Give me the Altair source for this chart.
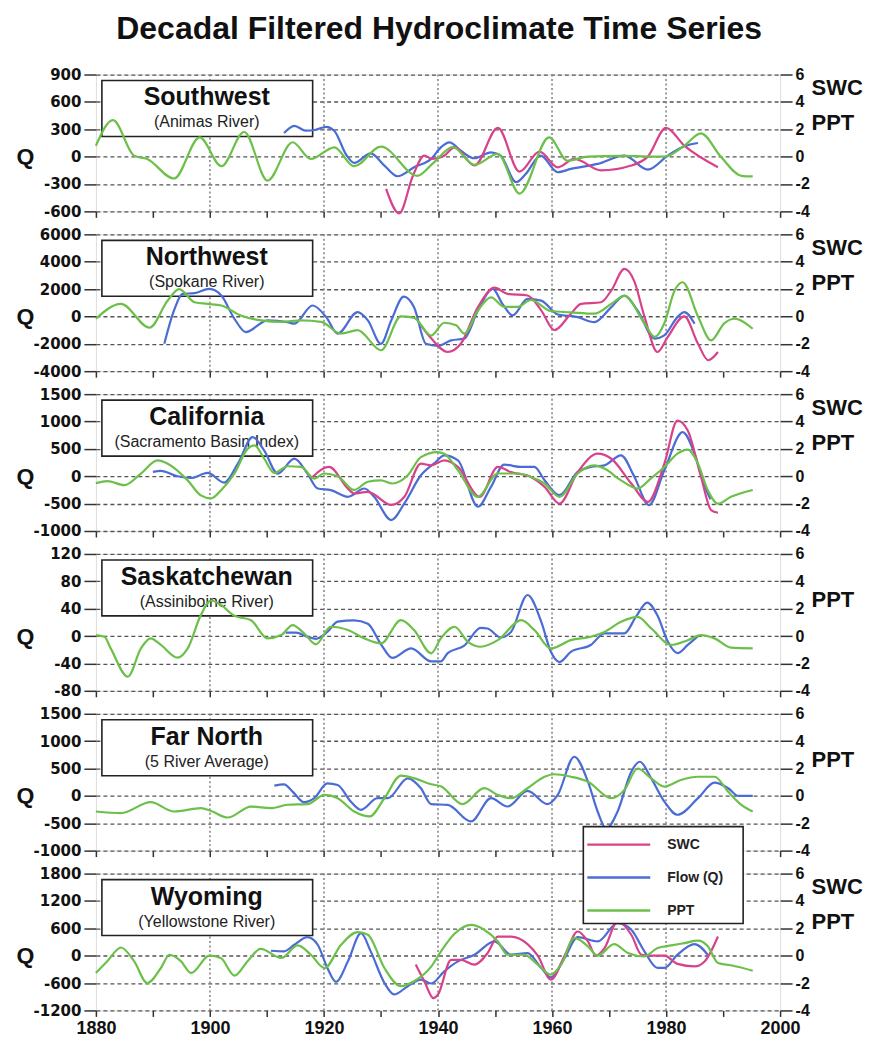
import altair as alt
import pandas as pd

# ---------------- data ----------------
YEAR_TICKS = list(range(1880, 2001, 10))
GRID_YEARS = [1900, 1920, 1940, 1960, 1980]
SERIES_NAMES = ["SWC", "Flow (Q)", "PPT"]
SERIES_COLORS = ["#d8428a", "#4a6cd4", "#6cc04a"]
INDEX_TICKS = [-4, -2, 0, 2, 4, 6]

# Southwest (Animas River)
SW_Q_TICKS = [-600, -300, 0, 300, 600, 900]
SW_PPT_YEARS = [1880, 1883, 1886.7, 1889, 1893.7, 1898.2, 1902, 1906, 1910.1, 1914.5, 1917.7, 1921.8, 1925.3, 1930, 1936.4, 1939.2, 1942.6, 1946.4, 1950.5, 1954.3, 1959.5, 1962.7, 1966.3, 1972, 1979.7, 1983.2, 1986.1, 1989.6, 1993.2, 1995.2]
SW_PPT = [0.8, 2.67, 0.07, -0.17, -1.6, 1.4, -0.7, 1.8, -1.75, 1.05, -0.17, 0.68, -0.7, 0.73, -1.4, -0.45, 0.7, -0.6, 0.2, -2.7, 1.4, -0.3, 0.0, 0.05, 0.0, 0.8, 1.7, 0.0, -1.4, -1.45]
SW_Q_YEARS = [1913, 1914.8, 1916.8, 1918.6, 1920.4, 1921.8, 1924, 1925.3, 1928.2, 1930.6, 1932.9, 1935.8, 1938.8, 1940.5, 1942, 1944, 1946.4, 1949.3, 1951, 1953.7, 1955.4, 1958, 1961, 1963.3, 1968, 1972.7, 1976.8, 1980.3, 1983.2, 1985.6]
SW_Q = [258, 338, 284, 295, 327, 284, 11, -69, 36, -98, -215, -116, -25, 102, 156, 65, -18, 47, 10, -280, -189, 11, -171, -135, -80, 11, -142, 11, 113, 149]
SW_SWC_YEARS = [1930.9, 1933.2, 1935.6, 1937.6, 1939, 1941.1, 1942.9, 1946.4, 1950.5, 1954.3, 1957.8, 1961, 1963.9, 1968.6, 1973.9, 1976.8, 1980, 1983.2, 1989.1]
SW_SWC = [-2.35, -4.15, -1.4, 0.07, -0.17, 0.07, 0.68, -0.65, 2.1, -1.1, 0.36, -0.78, -0.17, -1.0, -0.65, 0.0, 2.1, 0.8, -0.78]

# Northwest (Spokane River)
NW_Q_TICKS = [-4000, -2000, 0, 2000, 4000, 6000]
NW_PPT_YEARS = [1880, 1884.4, 1889.4, 1892.6, 1894.6, 1897.3, 1899.6, 1902, 1905.4, 1909, 1912.5, 1916, 1919.5, 1923, 1925.9, 1930, 1933.5, 1935.8, 1938.8, 1941.1, 1943.2, 1944.6, 1947, 1949.3, 1951.6, 1954, 1956.3, 1959.8, 1963.3, 1967.4, 1970.4, 1972.7, 1976.2, 1978, 1979.7, 1981.5, 1982.9, 1985.6, 1987.9, 1990.2, 1992, 1995.2]
NW_PPT = [-0.17, 0.92, -0.82, 1.16, 2.0, 1.04, 0.92, 0.8, 0.07, -0.29, -0.4, -0.29, -0.4, -1.26, -1.0, -2.47, 0.0, -0.1, -1.4, -0.46, -0.65, -1.26, 0.44, 1.4, 0.7, 0.7, 1.2, 0.4, 0.3, 0.2, 0.92, 1.5, -0.5, -1.5, -0.5, 1.9, 2.5, 0.0, -1.75, -0.5, -0.17, -0.9]
NW_Q_YEARS = [1892, 1893.7, 1895.2, 1897.3, 1899.9, 1902, 1904.3, 1906.3, 1910.1, 1913.6, 1914.8, 1918, 1920.4, 1922.4, 1925.9, 1927.7, 1930, 1931.8, 1934, 1935.8, 1937.9, 1940, 1942.3, 1944.6, 1947, 1949.6, 1951.3, 1953.1, 1955.7, 1958.1, 1961, 1964.5, 1967.4, 1970.4, 1972.7, 1975, 1978, 1979.7, 1982, 1983.2, 1985]
NW_Q = [-2000, 436, 1650, 1700, 2012, 1527, -170, -1140, -290, -412, -530, 800, -48, -1260, 315, -290, -2000, -290, 1450, 680, -2000, -2150, -1750, -1620, 436, 2012, 920, 73, 1285, 1160, 145, -48, -412, 680, 1527, 436, -1620, -1380, -48, 315, -530]
NW_SWC_YEARS = [1937, 1938.8, 1941.7, 1944, 1947, 1949.9, 1952.2, 1955.7, 1958.1, 1960.4, 1963.3, 1965.1, 1968.6, 1970.4, 1972.7, 1974.4, 1976.2, 1978.5, 1980.3, 1983.2, 1985.6, 1987.4, 1989.1]
NW_SWC = [-0.65, -1.6, -2.6, -2.0, 0.68, 2.1, 1.65, 1.53, 0.44, -1.0, 0.2, 0.92, 1.04, 1.9, 3.47, 2.6, 0.0, -2.6, -1.5, 0.0, -2.0, -3.2, -2.6]

# California (Sacramento Basin Index)
CA_Q_TICKS = [-1000, -500, 0, 500, 1000, 1500]
CA_PPT_YEARS = [1880, 1882, 1885, 1887.9, 1890.8, 1892.6, 1896.1, 1898.4, 1900.2, 1902, 1904.3, 1906.6, 1907.8, 1909.5, 1911.3, 1913.6, 1916, 1918.3, 1920, 1922.4, 1925.3, 1927.7, 1930, 1932, 1934.7, 1937, 1939.9, 1941.1, 1943.5, 1947, 1950.5, 1954, 1956.3, 1958.7, 1961.3, 1964.5, 1967.4, 1969.2, 1972.1, 1975, 1977.3, 1979.7, 1982, 1983.8, 1985.6, 1987.3, 1989.1, 1991.4, 1995.2]
CA_PPT = [-0.5, -0.35, -0.65, 0.2, 1.16, 0.92, -0.3, -1.4, -1.62, -1.0, 0.2, 2.0, 2.25, 1.3, 0.24, 0.73, 0.68, -0.17, 0.2, 0.0, -1.0, -0.4, -0.3, -0.53, 0.07, 1.4, 1.77, 1.65, 0.44, -1.5, 0.2, 0.2, -0.05, -0.53, -1.5, 0.2, 0.8, 0.56, -0.3, -0.9, -0.17, 0.68, 1.65, 1.94, 0.92, -1.0, -2.0, -1.5, -1.0]
CA_Q_YEARS = [1890, 1891.4, 1894.3, 1896.7, 1899.6, 1902.5, 1904.9, 1907.5, 1909.5, 1911.9, 1914.8, 1917.1, 1918.9, 1921.2, 1924.2, 1927.1, 1928.8, 1931.8, 1934.1, 1937, 1939.5, 1941.1, 1943.5, 1947, 1949.3, 1951.6, 1954.6, 1956.9, 1958.7, 1961.3, 1964.5, 1966.8, 1969.2, 1972.1, 1974.4, 1977, 1979.7, 1982.9, 1985, 1986.8, 1987.8]
CA_Q = [79, 97, 0, -30, 60, -115, 230, 715, 473, 48, 321, 48, -224, -254, -375, -224, -375, -800, -497, 18, 250, 382, 290, -557, -194, 212, 170, 170, -73, -345, 79, 170, 200, 382, 0, -527, 109, 806, 412, -194, -420]
CA_SWC_YEARS = [1917.7, 1920.9, 1924.2, 1925.3, 1927.7, 1931.8, 1934.1, 1937, 1938.8, 1941.1, 1943.5, 1947.3, 1950.5, 1952.8, 1956.3, 1958.7, 1961.3, 1964.5, 1968, 1970.4, 1973.9, 1976.8, 1979.7, 1982, 1983.8, 1986.1, 1987.9, 1989.1]
CA_SWC = [-0.17, 0.68, -0.9, -1.26, -1.14, -2.1, -1.5, 0.92, 0.8, 1.16, 0.68, -1.5, 0.68, 0.3, -0.05, -0.78, -2.0, 0.3, 1.65, 1.28, -0.53, -1.87, 0.92, 4.07, 3.35, 0.0, -2.47, -2.67]

# Saskatchewan (Assiniboine River)
SK_Q_TICKS = [-80, -40, 0, 40, 80, 120]
SK_PPT_YEARS = [1880, 1881.5, 1882.6, 1885.6, 1887.9, 1889.6, 1891.4, 1894.3, 1896.1, 1898.4, 1900.2, 1902, 1904.3, 1907.2, 1910.1, 1912.5, 1914.5, 1916.5, 1918.6, 1921.2, 1924.2, 1927.1, 1930, 1933.5, 1935.8, 1938.8, 1940.5, 1942.9, 1945.2, 1947.5, 1950.5, 1954.6, 1956.9, 1959.8, 1963.3, 1966.8, 1969.2, 1972.1, 1975, 1977.4, 1980.9, 1983.8, 1986.1, 1988.5, 1991.4, 1995.2]
SK_PPT = [0.07, -0.05, -0.9, -2.96, -0.9, -0.17, -0.65, -1.58, -0.9, 1.53, 2.6, 2.25, 1.48, 1.16, -0.17, 0.07, 0.8, 0.2, -0.6, 0.68, 0.44, -0.17, -0.53, 1.16, 0.44, -1.26, -0.17, 0.68, -0.4, -0.78, -0.3, 1.16, 0.44, -0.9, -0.3, -0.05, 0.3, 1.04, 1.4, 0.56, -0.65, -0.3, 0.07, -0.17, -0.85, -0.9]
SK_Q_YEARS = [1913.3, 1915.1, 1917.1, 1918.6, 1920.6, 1922.4, 1925.3, 1927.7, 1930, 1932, 1935.3, 1938.8, 1940.5, 1941.7, 1944.6, 1947.5, 1948.7, 1951, 1952.8, 1955.7, 1958.1, 1959.8, 1961.3, 1963.3, 1966.8, 1969.2, 1972.7, 1974.7, 1976.7, 1978.5, 1980.3, 1982, 1983.8, 1985.6]
SK_Q = [5, 5, -1, -4, 6, 21, 23, 18, -12, -32, -18, -37, -37, -25, -14, 12, 11, -2, 6, 60, 21, -23, -38, -23, -13, 4, 4, 28, 49, 30, -8, -25, -13, 0]

# Far North (5 River Average)
FN_Q_TICKS = [-1000, -500, 0, 500, 1000, 1500]
FN_PPT_YEARS = [1880, 1884.4, 1889.6, 1893.7, 1898.4, 1900.2, 1903.1, 1907.2, 1910.7, 1913.6, 1917.1, 1920.1, 1922.4, 1925.3, 1928, 1930.6, 1933.5, 1935.8, 1938.8, 1940.5, 1944.3, 1948.1, 1950.5, 1952.8, 1955.7, 1958.7, 1960.4, 1963.3, 1966.3, 1970.4, 1972.7, 1975, 1977.4, 1979.7, 1982.6, 1985.6, 1988.5, 1990.9, 1993.2, 1995.2]
FN_PPT = [-1.14, -1.26, -0.46, -1.14, -0.9, -1.1, -1.58, -0.78, -0.9, -0.65, -0.6, 0.07, -0.17, -1.14, -1.5, -0.17, 1.48, 1.3, 0.85, 0.7, -0.6, 0.56, 0.07, -0.17, 0.56, 1.4, 1.58, 1.4, 1.04, -0.17, 0.44, 2.0, 1.28, 0.68, 1.16, 1.4, 1.4, 0.3, -0.65, -1.14]
FN_Q_YEARS = [1911.3, 1913, 1914.5, 1916.5, 1918.3, 1920.6, 1922.4, 1924.7, 1926.5, 1929.4, 1931.2, 1934.7, 1937, 1938.8, 1941.7, 1945.8, 1949.3, 1952.2, 1955.7, 1959.2, 1961, 1963.9, 1966.3, 1968, 1969.5, 1971.5, 1973.9, 1975.4, 1977.4, 1979.7, 1982, 1985.6, 1988.5, 1990.9, 1992.7, 1995.2]
FN_Q = [188, 212, 79, -115, -42, 230, 200, -103, -254, -42, -42, 321, 139, -150, -164, -467, -42, -194, 91, -151, 18, 715, 260, -285, -600, -285, 442, 624, 321, -103, -345, -42, 242, 140, 0, 0]

# Wyoming (Yellowstone River)
WY_Q_TICKS = [-1200, -600, 0, 600, 1200, 1800]
WY_PPT_YEARS = [1880, 1882, 1884.4, 1886.7, 1889, 1891.4, 1892.9, 1894.9, 1896.7, 1899.9, 1901.9, 1904.3, 1906.6, 1908.9, 1912.5, 1915.4, 1917.7, 1920.1, 1923, 1925.9, 1927.7, 1930.6, 1933.5, 1935.8, 1938.8, 1940.5, 1942.9, 1945.8, 1948.1, 1950.5, 1952.2, 1955.1, 1957.5, 1959.8, 1961.6, 1963.9, 1966.3, 1968, 1970.9, 1973.3, 1976.2, 1978.5, 1980.9, 1983.2, 1985.6, 1987.3, 1989.1, 1991.4, 1995.2]
WY_PPT = [-1.26, -0.4, 0.6, -0.4, -2.0, -0.9, 0.07, -0.4, -1.26, 0.0, -0.17, -1.45, -0.4, 0.5, -0.17, 0.75, 0.07, -0.9, 0.8, 1.72, 1.53, -0.9, -2.23, -1.87, -0.8, 0.3, 1.6, 2.25, 1.9, 1.04, 0.07, 0.07, -0.65, -1.38, -0.65, 1.3, 0.68, 0.0, 0.85, 0.2, -0.05, 0.56, 0.75, 0.92, 1.1, 0.7, -0.53, -0.7, -1.1]
WY_Q_YEARS = [1910.7, 1913, 1914.8, 1917.1, 1918.9, 1920.6, 1922.1, 1924.2, 1926.5, 1928.2, 1930.6, 1932.3, 1934.7, 1937, 1938.8, 1941.1, 1943.5, 1946.4, 1949.9, 1952.8, 1955.7, 1958.1, 1959.8, 1962.2, 1964.5, 1968, 1971.5, 1973.9, 1976.2, 1978.5, 1979.7, 1982, 1985, 1987.3]
WY_Q = [109, 95, 240, 407, 240, -269, -574, -124, 494, 95, -596, -850, -669, -523, -610, -342, -124, 22, 313, 22, 58, -269, -473, -51, 407, 313, 713, 567, 95, -269, -269, 22, 254, 22]
WY_SWC_YEARS = [1936.1, 1937.6, 1939.2, 1940, 1942.3, 1944, 1946.4, 1948.7, 1950.5, 1952.8, 1955.7, 1957.5, 1959.8, 1962.2, 1964.5, 1966.3, 1967.7, 1969.2, 1971.5, 1973.9, 1975.7, 1977.4, 1979.7, 1982, 1985, 1986.8, 1989.1]
WY_SWC = [-0.65, -1.87, -3.1, -2.84, -0.3, -0.3, -0.65, 0.2, 1.4, 1.4, 0.85, 0.0, -1.75, 0.0, 1.77, 1.04, 0.0, 0.56, 2.5, 1.53, 0.07, 0.0, 0.0, -0.6, -0.78, -0.4, 1.4]

PANELS = [
    dict(title="Southwest", sub="(Animas River)", ticks=SW_Q_TICKS, q=(SW_Q_YEARS, SW_Q), swc=(SW_SWC_YEARS, SW_SWC), ppt=(SW_PPT_YEARS, SW_PPT), right=["SWC", "PPT"]),
    dict(title="Northwest", sub="(Spokane River)", ticks=NW_Q_TICKS, q=(NW_Q_YEARS, NW_Q), swc=(NW_SWC_YEARS, NW_SWC), ppt=(NW_PPT_YEARS, NW_PPT), right=["SWC", "PPT"]),
    dict(title="California", sub="(Sacramento Basin Index)", ticks=CA_Q_TICKS, q=(CA_Q_YEARS, CA_Q), swc=(CA_SWC_YEARS, CA_SWC), ppt=(CA_PPT_YEARS, CA_PPT), right=["SWC", "PPT"]),
    dict(title="Saskatchewan", sub="(Assiniboine River)", ticks=SK_Q_TICKS, q=(SK_Q_YEARS, SK_Q), swc=None, ppt=(SK_PPT_YEARS, SK_PPT), right=["PPT"]),
    dict(title="Far North", sub="(5 River Average)", ticks=FN_Q_TICKS, q=(FN_Q_YEARS, FN_Q), swc=None, ppt=(FN_PPT_YEARS, FN_PPT), right=["PPT"]),
    dict(title="Wyoming", sub="(Yellowstone River)", ticks=WY_Q_TICKS, q=(WY_Q_YEARS, WY_Q), swc=(WY_SWC_YEARS, WY_SWC), ppt=(WY_PPT_YEARS, WY_PPT), right=["SWC", "PPT"]),
]

# ---------------- chart ----------------
W, H = 685, 137
FONT = "Liberation Sans"
COLOR_SCALE = alt.Scale(domain=SERIES_NAMES, range=SERIES_COLORS)
PLAIN_LABEL = "'' + datum.value"


def x_enc(bottom):
    return alt.X(
        "year:Q",
        scale=alt.Scale(domain=[1880, 2000], nice=False, zero=False),
        axis=alt.Axis(
            values=YEAR_TICKS, title=None, grid=False, domain=False,
            labels=bottom, labelExpr="datum.value % 20 == 0 ? '' + datum.value : ''",
            tickSize=6, tickWidth=1.5, tickColor="#333",
            labelFont=FONT, labelFontSize=18, labelFontWeight="bold",
            labelColor="#111", labelPadding=3, labelFlush=False,
        ),
    )


def panel(p, bottom, legend):
    X = x_enc(bottom)
    grid = alt.Chart(pd.DataFrame({"year": GRID_YEARS})).mark_rule(
        color="#888", strokeWidth=1.6, strokeDash=[2, 2.5]
    ).encode(x=X)

    lab = pd.DataFrame({"title": [p["title"]], "sub": [p["sub"]]})
    box = alt.Chart(lab).mark_rect(fill="white", stroke="#222", strokeWidth=1.6).encode(
        x=alt.value(6), x2=alt.value(217), y=alt.value(6), y2=alt.value(62)
    )
    t1 = alt.Chart(lab).mark_text(font=FONT, fontSize=25, fontWeight="bold", color="#111").encode(
        x=alt.value(111), y=alt.value(23), text="title:N"
    )
    t2 = alt.Chart(lab).mark_text(font=FONT, fontSize=16, color="#222").encode(
        x=alt.value(111), y=alt.value(48), text="sub:N"
    )

    qy, qv = p["q"]
    qdf = pd.DataFrame({"year": qy, "value": qv, "series": "Flow (Q)"})
    lo, hi = p["ticks"][0], p["ticks"][-1]
    qline = alt.Chart(qdf).mark_line(strokeWidth=2.2, interpolate="monotone").encode(
        x=X,
        y=alt.Y(
            "value:Q",
            scale=alt.Scale(domain=[lo, hi], nice=False, zero=False),
            axis=alt.Axis(
                orient="left", values=p["ticks"], labelExpr=PLAIN_LABEL, grid=True,
                gridDash=[4, 3], gridColor="#555", gridWidth=1.3, domain=False,
                tickSize=12, tickWidth=1.5, tickColor="#333", labelPadding=3,
                labelFont="DejaVu Sans", labelFontSize=15, labelFontWeight="bold", labelColor="#111",
                title="Q", titleAngle=0, titleX=-71, titleY=H * 3 / 5, titleAlign="center",
                titleBaseline="middle", titleFont=FONT, titleFontSize=23, titleFontWeight="bold",
                titleColor="#111",
            ),
        ),
        color=alt.Color("series:N", scale=COLOR_SCALE, legend=None),
    )

    frames = []
    if p["swc"] is not None:
        frames.append(pd.DataFrame({"year": p["swc"][0], "value": p["swc"][1], "series": "SWC"}))
    frames.append(pd.DataFrame({"year": p["ppt"][0], "value": p["ppt"][1], "series": "PPT"}))
    idf = pd.concat(frames, ignore_index=True)
    right_y = 20 if len(p["right"]) == 2 else 53
    iline = alt.Chart(idf).mark_line(strokeWidth=2.2, interpolate="monotone").encode(
        x=X,
        y=alt.Y(
            "value:Q",
            scale=alt.Scale(domain=[-4, 6], nice=False, zero=False),
            axis=alt.Axis(
                orient="right", values=INDEX_TICKS, labelExpr=PLAIN_LABEL, grid=False, domain=False,
                tickSize=12, tickWidth=1.5, tickColor="#333", labelPadding=3,
                labelFont=FONT, labelFontSize=16, labelFontWeight="bold", labelColor="#111",
                title=p["right"], titleAngle=0, titleX=31, titleY=right_y, titleAlign="left",
                titleBaseline="alphabetic", titleLineHeight=35, titleFont=FONT,
                titleFontSize=22, titleFontWeight="bold", titleColor="#111",
            ),
        ),
        color=alt.Color("series:N", scale=COLOR_SCALE, legend=None),
        detail="series:N",
    )

    layers = [grid, box, t1, t2, qline, iline]

    if legend:
        ldf = pd.DataFrame({"label": SERIES_NAMES})
        ly = alt.Y("label:N", scale=alt.Scale(type="point", domain=SERIES_NAMES, range=[-29, 37], padding=0), axis=None)
        lbox = alt.Chart(lab).mark_rect(fill="white", stroke="#222", strokeWidth=1.6).encode(
            x=alt.value(488), x2=alt.value(648), y=alt.value(-47), y2=alt.value(50)
        )
        lrule = alt.Chart(ldf).mark_rule(strokeWidth=2.5).encode(
            x=alt.value(492), x2=alt.value(555), y=ly,
            color=alt.Color("label:N", scale=COLOR_SCALE, legend=None),
        )
        ltext = alt.Chart(ldf).mark_text(align="left", baseline="middle", font=FONT, fontSize=14,
                                         fontWeight="bold", color="#222").encode(
            x=alt.value(572), y=ly, text="label:N"
        )
        layers += [lbox, lrule, ltext]

    return alt.layer(*layers).resolve_scale(y="independent").properties(width=W, height=H)


charts = [panel(p, i == len(PANELS) - 1, i == len(PANELS) - 1) for i, p in enumerate(PANELS)]

chart = alt.vconcat(*charts, spacing=23, bounds="flush").properties(
    title=alt.TitleParams(
        "Decadal Filtered Hydroclimate Time Series", font=FONT, fontSize=32,
        fontWeight="bold", color="#111", anchor="middle", offset=20,
    ),
    padding={"left": 7, "top": 4, "right": 0, "bottom": 0},
).configure_view(stroke="#222", strokeWidth=1.6).configure(background="white")

chart.save("out.html", embed_options={"renderer": "svg", "actions": False})
